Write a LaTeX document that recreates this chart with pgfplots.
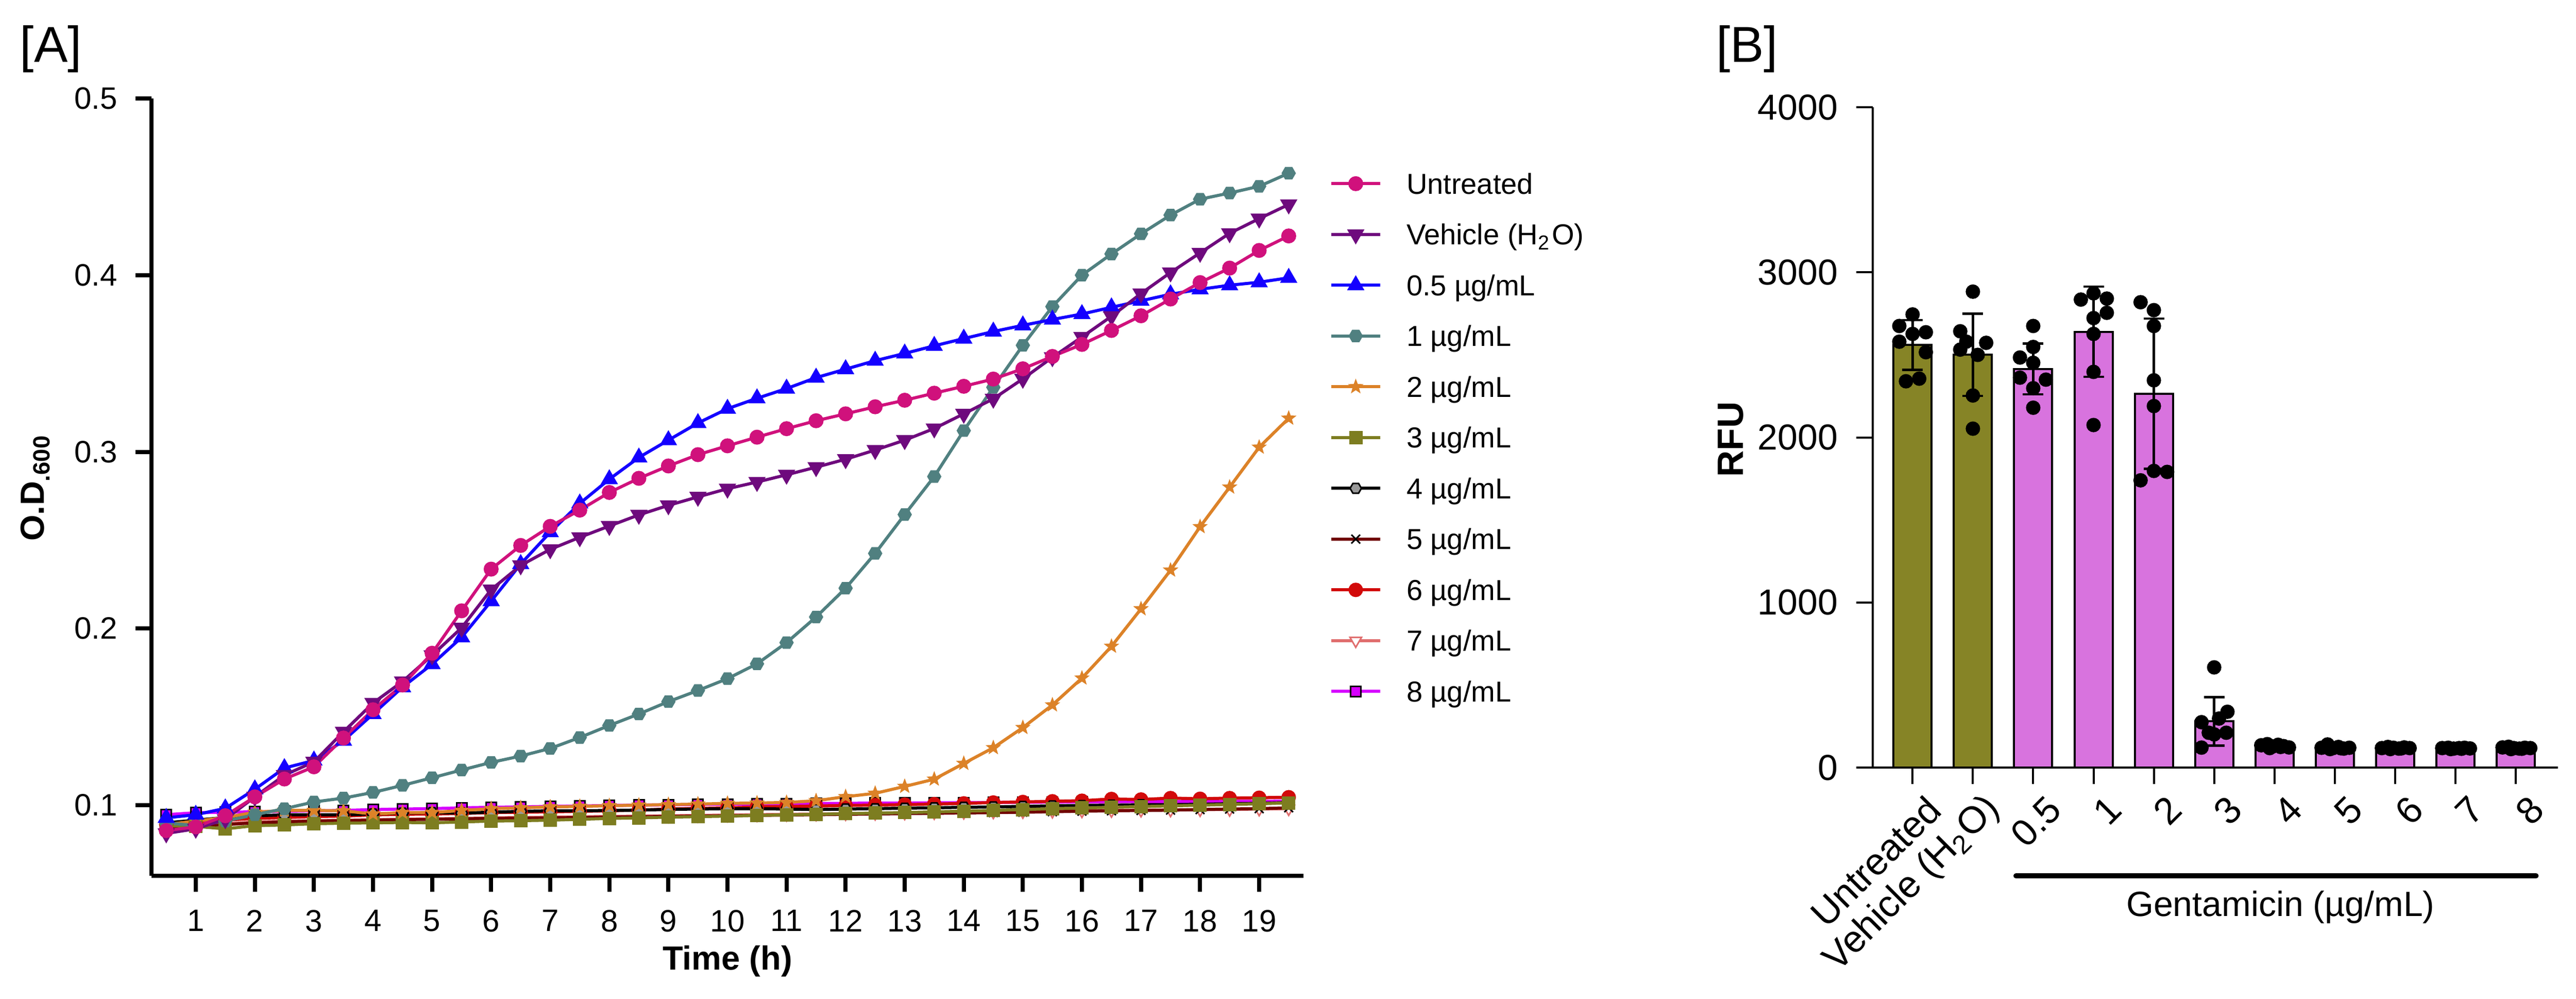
\documentclass[border=0pt]{standalone}
\usepackage{fontspec}
\setmainfont{Liberation Sans}
\usepackage{pgfplots}
\pgfplotsset{compat=1.18}
\usepackage{pgfplotstable}

\definecolor{untreated}{RGB}{208,17,124}
\definecolor{vehicle}{RGB}{110,10,125}
\definecolor{blue05}{RGB}{20,0,255}
\definecolor{teal1}{RGB}{80,128,128}
\definecolor{orange2}{RGB}{220,130,40}
\definecolor{olive3}{RGB}{125,125,32}
\definecolor{darkred5}{RGB}{112,0,0}
\definecolor{red6}{RGB}{210,10,10}
\definecolor{salmon7}{RGB}{224,110,110}
\definecolor{magenta8}{RGB}{214,0,255}
\definecolor{olivebar}{RGB}{134,132,38}
\definecolor{pinkbar}{RGB}{216,115,222}

\pgfdeclareplotmark{hexagon*}{%
  \pgfpathmoveto{\pgfqpoint{\pgfplotmarksize}{0pt}}%
  \pgfpathlineto{\pgfqpoint{0.5\pgfplotmarksize}{0.866\pgfplotmarksize}}%
  \pgfpathlineto{\pgfqpoint{-0.5\pgfplotmarksize}{0.866\pgfplotmarksize}}%
  \pgfpathlineto{\pgfqpoint{-\pgfplotmarksize}{0pt}}%
  \pgfpathlineto{\pgfqpoint{-0.5\pgfplotmarksize}{-0.866\pgfplotmarksize}}%
  \pgfpathlineto{\pgfqpoint{0.5\pgfplotmarksize}{-0.866\pgfplotmarksize}}%
  \pgfpathclose\pgfusepathqfillstroke}
\pgfdeclareplotmark{star5*}{%
  \pgfpathmoveto{\pgfpointpolar{90}{\pgfplotmarksize}}%
  \pgfpathlineto{\pgfpointpolar{126}{0.42\pgfplotmarksize}}%
  \pgfpathlineto{\pgfpointpolar{162}{\pgfplotmarksize}}%
  \pgfpathlineto{\pgfpointpolar{198}{0.42\pgfplotmarksize}}%
  \pgfpathlineto{\pgfpointpolar{234}{\pgfplotmarksize}}%
  \pgfpathlineto{\pgfpointpolar{270}{0.42\pgfplotmarksize}}%
  \pgfpathlineto{\pgfpointpolar{306}{\pgfplotmarksize}}%
  \pgfpathlineto{\pgfpointpolar{342}{0.42\pgfplotmarksize}}%
  \pgfpathlineto{\pgfpointpolar{18}{\pgfplotmarksize}}%
  \pgfpathlineto{\pgfpointpolar{54}{0.42\pgfplotmarksize}}%
  \pgfpathclose\pgfusepathqfillstroke}

\pgfplotstableread{
t u v c05 c1 c2 c3 c4 c5 c6 c7 c8
0.5 0.0856 0.0840 0.0928 0.0900 0.0890 0.0884 0.0900 0.0870 0.0890 0.0880 0.0946
1.0 0.0877 0.0866 0.0946 0.0884 0.0910 0.0880 0.0915 0.0880 0.0900 0.0885 0.0957
1.5 0.0940 0.0920 0.0982 0.0910 0.0930 0.0866 0.0930 0.0890 0.0915 0.0895 0.0960
2.0 0.1047 0.1047 0.1090 0.0946 0.0960 0.0884 0.0940 0.0900 0.0925 0.0905 0.0962
2.5 0.1148 0.1170 0.1210 0.0980 0.0970 0.0888 0.0945 0.0905 0.0930 0.0910 0.0965
3.0 0.1217 0.1245 0.1253 0.1018 0.0970 0.0895 0.0946 0.0910 0.0935 0.0912 0.0968
3.5 0.1380 0.1415 0.1365 0.1040 0.0968 0.0898 0.0945 0.0912 0.0938 0.0915 0.0970
4.0 0.1540 0.1578 0.1516 0.1072 0.0950 0.0900 0.0950 0.0915 0.0945 0.0918 0.0975
4.5 0.1680 0.1700 0.1668 0.1112 0.0958 0.0902 0.0955 0.0918 0.0948 0.0920 0.0978
5.0 0.1860 0.1848 0.1798 0.1155 0.0958 0.0900 0.0958 0.0920 0.0950 0.0922 0.0980
5.5 0.2100 0.2004 0.1950 0.1199 0.0970 0.0905 0.0955 0.0922 0.0953 0.0925 0.0985
6.0 0.2336 0.2220 0.2155 0.1242 0.0980 0.0910 0.0960 0.0925 0.0958 0.0928 0.0988
6.5 0.2470 0.2357 0.2365 0.1278 0.0985 0.0912 0.0965 0.0926 0.0960 0.0930 0.0990
7.0 0.2578 0.2448 0.2545 0.1321 0.0990 0.0915 0.0968 0.0928 0.0962 0.0932 0.0993
7.5 0.2670 0.2516 0.2708 0.1383 0.0993 0.0920 0.0968 0.0930 0.0965 0.0934 0.0995
8.0 0.2770 0.2580 0.2845 0.1451 0.0997 0.0925 0.0970 0.0932 0.0968 0.0936 0.0998
8.5 0.2850 0.2643 0.2968 0.1516 0.1000 0.0928 0.0972 0.0934 0.0972 0.0938 0.1000
9.0 0.2920 0.2697 0.3066 0.1586 0.1003 0.0932 0.0976 0.0936 0.0978 0.0940 0.1002
9.5 0.2984 0.2745 0.3163 0.1649 0.1006 0.0935 0.0978 0.0938 0.0982 0.0942 0.1004
10.0 0.3034 0.2791 0.3244 0.1716 0.1010 0.0938 0.0980 0.0940 0.0985 0.0944 0.1005
10.5 0.3083 0.2829 0.3303 0.1800 0.1012 0.0942 0.0980 0.0942 0.0990 0.0946 0.1006
11.0 0.3131 0.2870 0.3358 0.1920 0.1015 0.0945 0.0978 0.0944 0.0992 0.0948 0.1008
11.5 0.3176 0.2913 0.3420 0.2065 0.1025 0.0948 0.0975 0.0946 0.0995 0.0950 0.1010
12.0 0.3215 0.2958 0.3468 0.2228 0.1048 0.0952 0.0978 0.0948 0.0998 0.0952 0.1010
12.5 0.3255 0.3010 0.3516 0.2425 0.1067 0.0955 0.0980 0.0950 0.1000 0.0954 0.1012
13.0 0.3292 0.3066 0.3557 0.2645 0.1106 0.0958 0.0983 0.0952 0.1003 0.0956 0.1012
13.5 0.3332 0.3132 0.3600 0.2860 0.1147 0.0962 0.0985 0.0954 0.1006 0.0958 0.1013
14.0 0.3371 0.3215 0.3641 0.3120 0.1236 0.0966 0.0988 0.0956 0.1010 0.0960 0.1014
14.5 0.3412 0.3300 0.3681 0.3365 0.1325 0.0970 0.0990 0.0958 0.1015 0.0962 0.1015
15.0 0.3470 0.3413 0.3716 0.3603 0.1439 0.0975 0.0993 0.0960 0.1018 0.0964 0.1016
15.5 0.3540 0.3535 0.3749 0.3822 0.1567 0.0980 0.0996 0.0963 0.1022 0.0966 0.1017
16.0 0.3608 0.3650 0.3780 0.4000 0.1719 0.0984 0.0998 0.0966 0.1025 0.0968 0.1018
16.5 0.3687 0.3767 0.3818 0.4120 0.1899 0.0988 0.1000 0.0968 0.1035 0.0970 0.1019
17.0 0.3770 0.3896 0.3855 0.4234 0.2111 0.0992 0.1002 0.0970 0.1032 0.0972 0.1020
17.5 0.3865 0.4015 0.3892 0.4340 0.2330 0.0996 0.1003 0.0972 0.1040 0.0973 0.1020
18.0 0.3958 0.4126 0.3920 0.4430 0.2576 0.1000 0.1005 0.0975 0.1036 0.0975 0.1021
18.5 0.4040 0.4237 0.3943 0.4465 0.2800 0.1004 0.1008 0.0978 0.1040 0.0976 0.1022
19.0 0.4140 0.4320 0.3960 0.4503 0.3026 0.1008 0.1010 0.0980 0.1042 0.0978 0.1022
19.5 0.4222 0.4400 0.3985 0.4577 0.3190 0.1013 0.1015 0.0985 0.1045 0.0980 0.1023
}\growth

\begin{document}
\begin{tikzpicture}
\useasboundingbox (0,0) rectangle (500pt,193.7pt);
\node[anchor=base west, inner sep=0pt, font=\fontsize{9.8}{11}\selectfont] at (3.7pt,181.7pt) {[A]};
\node[anchor=base west, inner sep=0pt, font=\fontsize{9.8}{11}\selectfont] at (332.9pt,181.7pt) {[B]};

% ---------------- Panel A ----------------
\begin{axis}[
  at={(29.4pt,23.8pt)}, anchor=south west,
  scale only axis, width=223.6pt, height=150.8pt,
  xmin=0.25, xmax=19.75, ymin=0.06, ymax=0.5,
  axis x line=bottom, axis y line=left,
  axis line style={-, line width=0.8pt},
  xtick={1,...,19}, ytick={0.1,0.2,0.3,0.4,0.5},
  minor tick num=0,
  tick align=outside, major tick length=3.1pt,
  tick style={line width=0.8pt, black},
  /pgf/number format/assume math mode=true,
  ticklabel style={font=\fontsize{6}{7}\selectfont},
  yticklabel style={/pgf/number format/fixed, /pgf/number format/precision=1},
  xlabel={Time (h)},
  xlabel style={at={(axis description cs:0.5,-0.110)}, anchor=center, font=\bfseries\fontsize{6.5}{8}\selectfont},
  ylabel={O.D\textsubscript{.600}},
  ylabel style={at={(axis description cs:-0.101,0.5)}, anchor=center, font=\bfseries\fontsize{6.5}{8}\selectfont},
  every axis plot/.append style={line width=0.6pt},
  reverse legend,
  legend cell align=left,
  legend image code/.code={\draw[mark repeat=2,mark phase=2,#1] plot coordinates {(0pt,0pt) (4.75pt,0pt) (9.5pt,0pt)};},
  legend style={at={(1.0219,0.909)}, anchor=north west, draw=none, fill=none,
    inner sep=0pt, row sep=4.65pt, column sep=4.8pt,
    font=\fontsize{5.6}{6.5}\selectfont,
    nodes={inner sep=0pt, text height=4.6pt, text depth=0.6pt}},
  clip=false,
]
\addplot[color=magenta8, mark=square*, mark size=1.0pt, mark options={fill=magenta8, draw=black, line width=0.3pt}] table[x=t,y=c8]{\growth};
\addlegendentry{8 µg/mL}
\addplot[color=salmon7, mark=triangle*, mark size=1.3pt, mark options={rotate=180, fill=white, draw=salmon7, line width=0.3pt}] table[x=t,y=c7]{\growth};
\addlegendentry{7 µg/mL}
\addplot[color=red6, mark=*, mark size=1.1pt] table[x=t,y=c6]{\growth};
\addlegendentry{6 µg/mL}
\addplot[color=darkred5, mark=x, mark size=1.2pt, mark options={draw=black, line width=0.3pt}] table[x=t,y=c5]{\growth};
\addlegendentry{5 µg/mL}
\addplot[color=black, mark=hexagon*, mark size=1.1pt, mark options={fill=gray!80, draw=black, line width=0.3pt}] table[x=t,y=c4]{\growth};
\addlegendentry{4 µg/mL}
\addplot[color=olive3, mark=square*, mark size=1.0pt] table[x=t,y=c3]{\growth};
\addlegendentry{3 µg/mL}
\addplot[color=orange2, mark=star5*, mark size=1.3pt, mark options={line width=0.2pt}] table[x=t,y=c2]{\growth};
\addlegendentry{2 µg/mL}
\addplot[color=teal1, mark=hexagon*, mark size=1.05pt] table[x=t,y=c1]{\growth};
\addlegendentry{1 µg/mL}
\addplot[color=blue05, mark=triangle*, mark size=1.35pt] table[x=t,y=c05]{\growth};
\addlegendentry{0.5 µg/mL}
\addplot[color=vehicle, mark=triangle*, mark size=1.35pt, mark options={rotate=180}] table[x=t,y=v]{\growth};
\addlegendentry{Vehicle (H\textsubscript{2}O)}
\addplot[color=untreated, mark=*, mark size=1.15pt] table[x=t,y=u]{\growth};
\addlegendentry{Untreated}
\end{axis}

% ---------------- Panel B ----------------
\begin{axis}[
  at={(363.5pt,44.8pt)}, anchor=south west,
  scale only axis, width=133pt, height=128.1pt,
  xmin=-0.66, xmax=10.7, ymin=0, ymax=4000,
  axis x line=bottom, axis y line=left,
  axis line style={-, line width=0.4pt},
  xtick={0,...,10},
  xticklabels={Untreated, Vehicle (H\textsubscript{2}O), 0.5, 1, 2, 3, 4, 5, 6, 7, 8},
  ytick={0,1000,2000,3000,4000},
  scaled y ticks=false,
  minor tick num=0,
  tick align=outside, major tick length=3.2pt,
  tick style={line width=0.4pt, black},
  /pgf/number format/assume math mode=true,
  /pgf/number format/1000 sep={},
  ticklabel style={font=\fontsize{7}{8}\selectfont},
  xticklabel style={rotate=45, anchor=east, inner sep=0pt, yshift=-5.5pt, xshift=0.5pt, font=\fontsize{7.3}{8}\selectfont},
  ylabel={RFU},
  ylabel style={at={(axis description cs:-0.2075,0.497)}, anchor=center, font=\bfseries\fontsize{7.1}{8}\selectfont},
  xlabel={Gentamicin (µg/mL)},
  xlabel style={at={(axis description cs:0.595,-0.2116)}, anchor=center, font=\fontsize{6.8}{8}\selectfont},
  clip=false,
]
\addplot[ybar, bar width=7.4pt, bar shift=0pt, fill=olivebar, draw=black, line width=0.4pt,
  error bars/.cd, y dir=both, y explicit,
  error bar style={line width=0.45pt, black},
  error mark options={rotate=90, mark size=2pt, line width=0.45pt, black}]
  coordinates {(0,2560) +- (0,150) (1,2500) +- (0,249)};
\addplot[ybar, bar width=7.4pt, bar shift=0pt, fill=pinkbar, draw=black, line width=0.4pt,
  error bars/.cd, y dir=both, y explicit,
  error bar style={line width=0.45pt, black},
  error mark options={rotate=90, mark size=2pt, line width=0.45pt, black}]
  coordinates {(2,2415) +- (0,154) (3,2640) +- (0,273) (4,2265) +- (0,455) (5,280) +- (0,147)
    (6,125) +- (0,10) (7,120) +- (0,10) (8,118) +- (0,8) (9,116) +- (0,6) (10,116) +- (0,8)};
\addplot[only marks, mark=*, mark size=1.2pt, black] coordinates {
  (0,2745) (-0.22,2675) (0.22,2637) (0,2627) (-0.22,2580) (0.22,2516) (-0.11,2340) (0.11,2356)
  (1,2883) (0.79,2643) (0.89,2580) (1.22,2573) (0.79,2532) (1.08,2500) (1,2254) (1,2053)
  (2,2675) (2,2548) (1.78,2484) (2,2452) (1.78,2362) (2.21,2350) (2,2298) (2,2180)
  (3,2873) (2.79,2835) (3.22,2841) (3.22,2755) (3,2723) (3,2627) (3,2397) (3,2075)
  (3.78,2819) (4,2771) (4,2675) (4,2346) (4,2190) (4,1797) (4.22,1791) (3.78,1740)
  (5,607) (5.22,338) (4.79,275) (5.08,297) (4.91,211) (5.2,211) (5,201) (4.79,121)
  (5.78,135) (5.88,142) (5.97,128) (6.06,138) (6.15,130) (6.24,122) (5.92,118) (6.1,125)
  (6.78,120) (6.88,140) (6.97,118) (7.06,125) (7.15,115) (7.24,120) (6.92,112) (7.1,117)
  (7.78,118) (7.88,125) (7.97,120) (8.06,115) (8.15,122) (8.24,118) (7.92,112) (8.1,116)
  (8.78,118) (8.88,120) (8.97,115) (9.06,118) (9.15,120) (9.24,116) (8.92,112) (9.1,114)
  (9.78,122) (9.88,126) (9.97,118) (10.06,115) (10.15,120) (10.24,118) (9.92,112) (10.1,114)
};
\draw[line width=1pt, line cap=round] (axis description cs:0.209,-0.164) -- (axis description cs:0.968,-0.164);
\end{axis}
\end{tikzpicture}
\end{document}
